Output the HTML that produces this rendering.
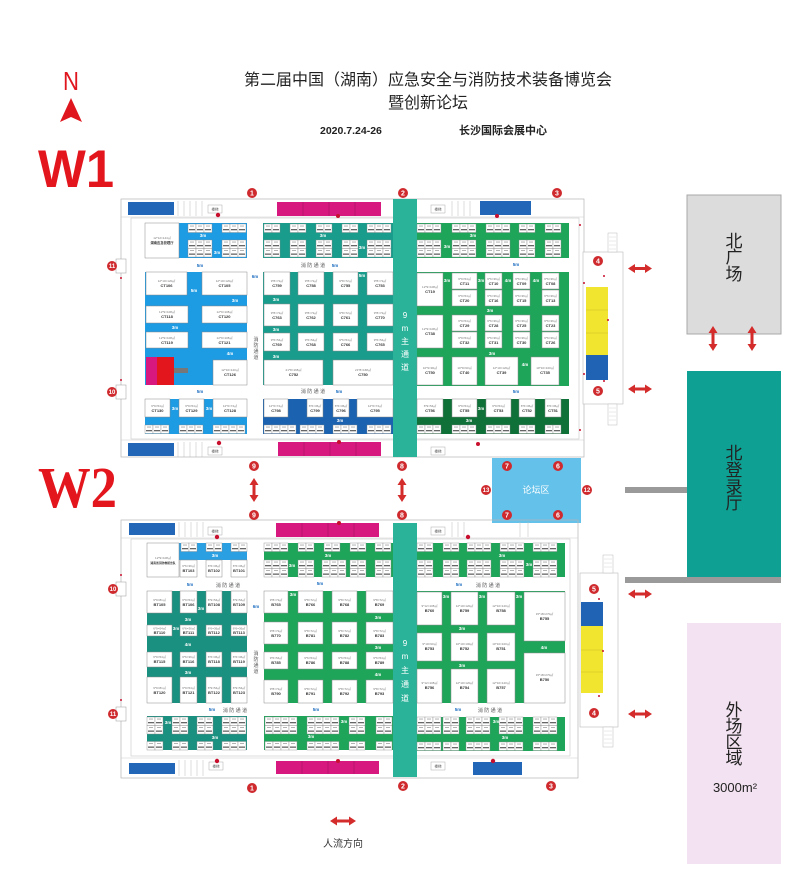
<!DOCTYPE html>
<html><head><meta charset="utf-8">
<style>
html,body{margin:0;padding:0;background:#fff;}
svg{display:block;}
.ff{font-family:"Liberation Sans","Noto Sans CJK SC",sans-serif;}
.w{fill:#fff;stroke:#8a8a8a;stroke-width:.5}
.d{font:3px "Liberation Sans","Noto Sans CJK SC",sans-serif;fill:#777;text-anchor:middle}
.i{font:bold 4px "Liberation Sans","Noto Sans CJK SC",sans-serif;fill:#333;text-anchor:middle}
.m{font:bold 4.5px "Liberation Sans",sans-serif;fill:#fff;text-anchor:middle}
.a{font:bold 4.5px "Liberation Sans",sans-serif;fill:#1f6fc0;text-anchor:middle}
.x{font:5px "Liberation Sans","Noto Sans CJK SC",sans-serif;fill:#555;text-anchor:middle}
.c circle{fill:#cf2a2e}
.c text{fill:#fff;font:bold 7px "Liberation Sans",sans-serif;text-anchor:middle}
.c2 text{font-size:6px}
.ar{fill:#d42b2b}
.vt{font:8px "Liberation Sans","Noto Sans CJK SC",sans-serif;fill:#fff;text-anchor:middle}
.big{font:17px "Liberation Sans","Noto Sans CJK SC",sans-serif;fill:#222;text-anchor:middle}
.ly{font:3.5px "Liberation Sans","Noto Sans CJK SC",sans-serif;fill:#555;text-anchor:middle}
</style></head>
<body>
<svg width="800" height="893" viewBox="0 0 800 893" xmlns="http://www.w3.org/2000/svg">
<defs>
<g id="b"><rect width="8" height="8.5" fill="#fff" stroke="#888" stroke-width=".4"/><rect x="2" y="1.6" width="4" height=".9" fill="#aaa"/><rect x="1" y="5" width="6" height="1.3" fill="#666"/></g>
<g id="b2"><use href="#b"/><use href="#b" x="8"/></g>
<g id="b3"><use href="#b2"/><use href="#b" x="16"/></g>
<g id="b4"><use href="#b2"/><use href="#b2" x="16"/></g>
</defs>
<rect width="800" height="893" fill="#fff"/>

<!-- Header -->
<text x="71" y="90" font-family="Liberation Sans, sans-serif" font-size="26" fill="#e0161e" text-anchor="middle" transform="translate(71 0) scale(.85 1) translate(-71 0)">N</text>
<polygon points="71,98 82,122 71,117 60,122" fill="#e0161e"/>
<text x="38" y="187" font-family="Liberation Sans, sans-serif" font-weight="bold" font-size="53" fill="#e3161e" textLength="76" lengthAdjust="spacingAndGlyphs">W1</text>
<text x="38" y="507" font-family="Liberation Serif, serif" font-weight="bold" font-size="58" fill="#e3161e" textLength="79" lengthAdjust="spacingAndGlyphs">W2</text>

<text x="428" y="85" class="ff" font-size="16" fill="#222" text-anchor="middle">第二届中国（湖南）应急安全与消防技术装备博览会</text>
<text x="428" y="108" class="ff" font-size="16" fill="#222" text-anchor="middle">暨创新论坛</text>
<text x="320" y="134" class="ff" font-size="10.5" font-weight="bold" fill="#222">2020.7.24-26</text>
<text x="459" y="134" class="ff" font-size="11" font-weight="bold" fill="#222">长沙国际会展中心</text>

<!-- Right side areas -->
<rect x="687" y="195" width="94" height="139" fill="#dcdcdc" stroke="#a8a8a8" stroke-width="1"/>
<text class="big" x="734" y="247">北</text><text class="big" x="734" y="263">广</text><text class="big" x="734" y="280">场</text>
<rect x="687" y="371" width="94" height="206" fill="#0fa094"/>
<text class="big" x="734" y="459">北</text><text class="big" x="734" y="476">登</text><text class="big" x="734" y="493">录</text><text class="big" x="734" y="509">厅</text>
<rect x="625" y="487" width="62" height="6" fill="#9a9a9a"/>
<rect x="625" y="577" width="156" height="6" fill="#9a9a9a"/>
<rect x="687" y="623" width="94" height="241" fill="#f3e2f1"/>
<text class="big" x="734" y="716">外</text><text class="big" x="734" y="732">场</text><text class="big" x="734" y="748">区</text><text class="big" x="734" y="764">域</text>
<text x="735" y="792" class="ff" font-size="13" fill="#222" text-anchor="middle">3000m²</text>

<!-- ================= W1 HALL ================= -->
<rect x="121" y="199" width="463" height="258" fill="none" stroke="#b5b5b5" stroke-width=".7"/>
<rect x="131" y="218" width="448" height="221" fill="none" stroke="#c8c8c8" stroke-width=".6"/>
<line x1="121" y1="217" x2="584" y2="217" stroke="#ccc" stroke-width=".5"/>
<line x1="121" y1="440" x2="584" y2="440" stroke="#ccc" stroke-width=".5"/>
<!-- top strip -->
<rect x="128" y="202" width="46" height="13" fill="#2266b8"/>
<g stroke="#bbb" stroke-width=".5" fill="none"><path d="M178 201v15M184 201v15M190 201v15M196 201v15M202 201v15"/></g>
<rect x="208" y="205" width="14" height="8" fill="#fff" stroke="#999" stroke-width=".4"/><text class="ly" x="215" y="210.5">楼梯</text>
<circle cx="218" cy="215" r="2.2" fill="#c8102e"/>
<rect x="277" y="202" width="104" height="14" fill="#d6187f"/>
<g stroke="#a01060" stroke-width=".5"><path d="M303 202v14M329 202v14M355 202v14"/></g>
<circle cx="338" cy="216" r="2" fill="#c8102e"/>
<rect x="431" y="205" width="14" height="8" fill="#fff" stroke="#999" stroke-width=".4"/><text class="ly" x="438" y="210.5">楼梯</text>
<g stroke="#bbb" stroke-width=".5" fill="none"><path d="M452 201v15M458 201v15M464 201v15M470 201v15"/></g>
<rect x="480" y="201" width="51" height="14" fill="#2266b8"/>
<circle cx="497" cy="216" r="2" fill="#c8102e"/>
<!-- bottom strip -->
<rect x="128" y="443" width="46" height="13" fill="#2266b8"/>
<g stroke="#bbb" stroke-width=".5" fill="none"><path d="M178 442v15M184 442v15M190 442v15M196 442v15M202 442v15"/></g>
<rect x="208" y="447" width="14" height="8" fill="#fff" stroke="#999" stroke-width=".4"/><text class="ly" x="215" y="452.5">楼梯</text>
<circle cx="219" cy="443" r="2.2" fill="#c8102e"/>
<rect x="278" y="442" width="103" height="14" fill="#d6187f"/>
<g stroke="#a01060" stroke-width=".5"><path d="M304 442v14M330 442v14M356 442v14"/></g>
<circle cx="339" cy="442" r="2" fill="#c8102e"/>
<rect x="431" y="447" width="14" height="8" fill="#fff" stroke="#999" stroke-width=".4"/><text class="ly" x="438" y="452.5">楼梯</text>
<circle cx="478" cy="444" r="2" fill="#c8102e"/>
<!-- left doors -->
<g fill="#fff" stroke="#999" stroke-width=".5"><rect x="116" y="259" width="10" height="14"/><rect x="116" y="385" width="10" height="14"/></g>
<g fill="#c8102e"><circle cx="121" cy="278" r="1"/><circle cx="121" cy="380" r="1"/><circle cx="580" cy="225" r="1"/><circle cx="580" cy="430" r="1"/></g>

<!-- W1 main aisle -->
<rect x="393" y="199" width="24" height="258" fill="#2bb39a"/>
<text class="vt" x="405" y="318">9</text><text class="vt" x="405" y="331">m</text><text class="vt" x="405" y="344">主</text><text class="vt" x="405" y="357">通</text><text class="vt" x="405" y="370">道</text>

<!-- W1 top-left -->
<rect x="179" y="223" width="68" height="35" fill="#1d9be3"/>
<rect class="w" x="145" y="223" width="34" height="35"/>
<text class="d" x="162" y="239">12*12=144㎡</text><text class="i" x="162" y="244" style="font-size:3.3px">湖南应急管理厅</text>
<use href="#b3" x="188" y="224"/><use href="#b3" x="222" y="224"/>
<use href="#b3" x="188" y="240"/><use href="#b3" x="188" y="248.5"/>
<use href="#b3" x="222" y="240"/><use href="#b3" x="222" y="248.5"/>
<text class="m" x="203" y="237">3m</text><text class="m" x="217" y="254">3m</text>

<!-- W1 top-middle teal -->
<rect x="263" y="223" width="130" height="35" fill="#1a9c8c"/>
<use href="#b2" x="264" y="224"/><use href="#b2" x="290" y="224"/><use href="#b2" x="316" y="224"/><use href="#b2" x="342" y="224"/><use href="#b3" x="367" y="224"/>
<use href="#b2" x="264" y="240"/><use href="#b2" x="290" y="240"/><use href="#b2" x="316" y="240"/><use href="#b2" x="342" y="240"/><use href="#b3" x="367" y="240"/>
<use href="#b2" x="264" y="248.5"/><use href="#b2" x="290" y="248.5"/><use href="#b2" x="316" y="248.5"/><use href="#b2" x="342" y="248.5"/><use href="#b3" x="367" y="248.5"/>
<text class="m" x="323" y="237">3m</text><text class="m" x="362" y="249">3m</text>

<!-- W1 top-right green -->
<rect x="417" y="223" width="152" height="35" fill="#1fa55a"/>
<use href="#b3" x="417" y="224"/><use href="#b3" x="452" y="224"/><use href="#b3" x="486" y="224"/><use href="#b2" x="519" y="224"/><use href="#b2" x="545" y="224"/>
<use href="#b3" x="417" y="240"/><use href="#b3" x="452" y="240"/><use href="#b3" x="486" y="240"/><use href="#b2" x="519" y="240"/><use href="#b2" x="545" y="240"/>
<use href="#b3" x="417" y="248.5"/><use href="#b3" x="452" y="248.5"/><use href="#b3" x="486" y="248.5"/><use href="#b2" x="519" y="248.5"/><use href="#b2" x="545" y="248.5"/>
<text class="m" x="473" y="237">3m</text><text class="m" x="447" y="248">3m</text>

<!-- W1 aisle labels row 1 -->
<text class="a" x="200" y="267">5m</text>
<text class="x" x="313" y="267">消 防 通 道</text>
<text class="a" x="335" y="267">5m</text>
<text class="a" x="516" y="266">5m</text>
<text class="a" x="255" y="278">6m</text>

<!-- W1 middle-left blue -->
<rect x="145" y="272" width="102" height="113" fill="#1d9be3"/>
<rect class="w" x="146" y="272" width="41" height="23"/><text class="d" x="166.5" y="282">12*10=120㎡</text><text class="i" x="166.5" y="287">CT106</text>
<rect class="w" x="202" y="272" width="45" height="23"/><text class="d" x="224.5" y="282">12*10=120㎡</text><text class="i" x="224.5" y="287">CT105</text>
<rect class="w" x="146" y="306" width="42" height="17"/><text class="d" x="167" y="313">12*9=108㎡</text><text class="i" x="167" y="318">CT118</text>
<rect class="w" x="202" y="306" width="45" height="17"/><text class="d" x="224.5" y="313">12*9=108㎡</text><text class="i" x="224.5" y="318">CT120</text>
<rect class="w" x="146" y="332" width="42" height="16"/><text class="d" x="167" y="339">12*9=108㎡</text><text class="i" x="167" y="344">CT119</text>
<rect class="w" x="202" y="332" width="45" height="16"/><text class="d" x="224.5" y="339">12*9=108㎡</text><text class="i" x="224.5" y="344">CT121</text>
<rect x="146" y="357" width="11" height="28" fill="#d6187f"/>
<rect x="157" y="357" width="17" height="28" fill="#e3161e"/>
<rect x="174" y="368" width="14" height="5" fill="#777"/>
<rect class="w" x="213" y="360" width="34" height="25"/><text class="d" x="230" y="371">12*10=120㎡</text><text class="i" x="230" y="376">CT126</text>
<text class="m" x="194" y="292">5m</text><text class="m" x="235" y="302">3m</text><text class="m" x="175" y="329">3m</text><text class="m" x="230" y="355">4m</text>
<!-- vertical aisle text -->
<text class="x" x="256" y="341">消</text><text class="x" x="256" y="347">防</text><text class="x" x="256" y="353">通</text><text class="x" x="256" y="359">道</text>

<!-- W1 middle teal -->
<rect x="263" y="272" width="130" height="113" fill="#1a9c8c"/>
<rect class="w" x="264" y="272" width="26" height="23"/><text class="d" x="277" y="282">9*8=72㎡</text><text class="i" x="277" y="287">C759</text>
<rect class="w" x="298" y="272" width="26" height="23"/><text class="d" x="311" y="282">9*8=72㎡</text><text class="i" x="311" y="287">C758</text>
<rect class="w" x="333" y="272" width="25" height="23"/><text class="d" x="345.5" y="282">9*8=72㎡</text><text class="i" x="345.5" y="287">C755</text>
<rect class="w" x="367" y="272" width="26" height="23"/><text class="d" x="380" y="282">9*8=72㎡</text><text class="i" x="380" y="287">C753</text>
<rect class="w" x="264" y="304" width="26" height="22"/><text class="d" x="277" y="314">9*8=72㎡</text><text class="i" x="277" y="319">C763</text>
<rect class="w" x="298" y="304" width="26" height="22"/><text class="d" x="311" y="314">9*8=72㎡</text><text class="i" x="311" y="319">C762</text>
<rect class="w" x="333" y="304" width="25" height="22"/><text class="d" x="345.5" y="314">9*8=72㎡</text><text class="i" x="345.5" y="319">C761</text>
<rect class="w" x="367" y="304" width="26" height="22"/><text class="d" x="380" y="314">9*8=72㎡</text><text class="i" x="380" y="319">C770</text>
<rect class="w" x="264" y="333" width="26" height="18"/><text class="d" x="277" y="341">9*6=54㎡</text><text class="i" x="277" y="346">C769</text>
<rect class="w" x="298" y="333" width="26" height="18"/><text class="d" x="311" y="341">9*6=54㎡</text><text class="i" x="311" y="346">C768</text>
<rect class="w" x="333" y="333" width="25" height="18"/><text class="d" x="345.5" y="341">9*6=54㎡</text><text class="i" x="345.5" y="346">C766</text>
<rect class="w" x="367" y="333" width="26" height="18"/><text class="d" x="380" y="341">9*6=54㎡</text><text class="i" x="380" y="346">C765</text>
<rect class="w" x="264" y="360" width="59" height="25"/><text class="d" x="293.5" y="371">21*8=168㎡</text><text class="i" x="293.5" y="376">C752</text>
<rect class="w" x="333" y="360" width="60" height="25"/><text class="d" x="363" y="371">21*8=168㎡</text><text class="i" x="363" y="376">C750</text>
<text class="m" x="276" y="301">3m</text><text class="m" x="276" y="331">3m</text><text class="m" x="276" y="358">3m</text><text class="m" x="362" y="277">5m</text>

<!-- W1 middle-right green -->
<rect x="417" y="272" width="152" height="114" fill="#1fa55a"/>
<rect class="w" x="417" y="273" width="26" height="33"/><text class="d" x="430" y="288">12*9=108㎡</text><text class="i" x="430" y="293">CT19</text>
<rect class="w" x="452" y="273" width="25" height="16"/><text class="d" x="464.5" y="280">6*9=54㎡</text><text class="i" x="464.5" y="285">CT11</text>
<rect class="w" x="452" y="290" width="25" height="16"/><text class="d" x="464.5" y="297">6*9=54㎡</text><text class="i" x="464.5" y="302">CT20</text>
<rect class="w" x="485" y="273" width="17" height="16"/><text class="d" x="493.5" y="280">6*6=36㎡</text><text class="i" x="493.5" y="285">CT10</text>
<rect class="w" x="485" y="290" width="17" height="16"/><text class="d" x="493.5" y="297">6*6=36㎡</text><text class="i" x="493.5" y="302">CT16</text>
<rect class="w" x="513" y="273" width="17" height="16"/><text class="d" x="521.5" y="280">6*6=36㎡</text><text class="i" x="521.5" y="285">CT09</text>
<rect class="w" x="513" y="290" width="17" height="16"/><text class="d" x="521.5" y="297">6*6=36㎡</text><text class="i" x="521.5" y="302">CT15</text>
<rect class="w" x="542" y="273" width="17" height="16"/><text class="d" x="550.5" y="280">6*6=36㎡</text><text class="i" x="550.5" y="285">CT08</text>
<rect class="w" x="542" y="290" width="17" height="16"/><text class="d" x="550.5" y="297">6*6=36㎡</text><text class="i" x="550.5" y="302">CT13</text>
<rect class="w" x="417" y="315" width="26" height="33"/><text class="d" x="430" y="330">12*9=108㎡</text><text class="i" x="430" y="335">CT38</text>
<rect class="w" x="452" y="315" width="25" height="16"/><text class="d" x="464.5" y="322">6*9=54㎡</text><text class="i" x="464.5" y="327">CT29</text>
<rect class="w" x="452" y="332" width="25" height="16"/><text class="d" x="464.5" y="339">6*9=54㎡</text><text class="i" x="464.5" y="344">CT32</text>
<rect class="w" x="485" y="315" width="17" height="16"/><text class="d" x="493.5" y="322">6*6=36㎡</text><text class="i" x="493.5" y="327">CT28</text>
<rect class="w" x="485" y="332" width="17" height="16"/><text class="d" x="493.5" y="339">6*6=36㎡</text><text class="i" x="493.5" y="344">CT31</text>
<rect class="w" x="513" y="315" width="17" height="16"/><text class="d" x="521.5" y="322">6*6=36㎡</text><text class="i" x="521.5" y="327">CT25</text>
<rect class="w" x="513" y="332" width="17" height="16"/><text class="d" x="521.5" y="339">6*6=36㎡</text><text class="i" x="521.5" y="344">CT30</text>
<rect class="w" x="542" y="315" width="17" height="16"/><text class="d" x="550.5" y="322">6*6=36㎡</text><text class="i" x="550.5" y="327">CT23</text>
<rect class="w" x="542" y="332" width="17" height="16"/><text class="d" x="550.5" y="339">6*6=36㎡</text><text class="i" x="550.5" y="344">CT26</text>
<rect class="w" x="417" y="357" width="26" height="28"/><text class="d" x="430" y="369">10*9=90㎡</text><text class="i" x="430" y="374">CT50</text>
<rect class="w" x="452" y="357" width="25" height="28"/><text class="d" x="464.5" y="369">10*9=90㎡</text><text class="i" x="464.5" y="374">CT40</text>
<rect class="w" x="485" y="357" width="33" height="28"/><text class="d" x="501.5" y="369">12*10=120㎡</text><text class="i" x="501.5" y="374">CT39</text>
<rect class="w" x="531" y="357" width="28" height="28"/><text class="d" x="545" y="369">10*10=100㎡</text><text class="i" x="545" y="374">CT35</text>
<text class="m" x="447" y="282">3m</text><text class="m" x="481" y="282">3m</text><text class="m" x="508" y="282">4m</text><text class="m" x="536" y="282">4m</text>
<text class="m" x="490" y="312">3m</text><text class="m" x="492" y="355">3m</text><text class="m" x="525" y="366">4m</text>

<!-- W1 aisle labels row 2 -->
<text class="a" x="200" y="393">5m</text>
<text class="x" x="313" y="393">消 防 通 道</text>
<text class="a" x="339" y="393">5m</text>
<text class="a" x="516" y="393">5m</text>

<!-- W1 bottom-left blue -->
<rect x="145" y="399" width="102" height="35" fill="#1d9be3"/>
<rect class="w" x="145" y="399" width="25" height="18"/><text class="d" x="157.5" y="407">6*9=54㎡</text><text class="i" x="157.5" y="412">CT130</text>
<rect class="w" x="179" y="399" width="25" height="18"/><text class="d" x="191.5" y="407">6*9=54㎡</text><text class="i" x="191.5" y="412">CT129</text>
<rect class="w" x="213" y="399" width="34" height="18"/><text class="d" x="230" y="407">12*6=72㎡</text><text class="i" x="230" y="412">CT128</text>
<use href="#b3" x="145" y="425"/><use href="#b3" x="179" y="425"/><use href="#b4" x="213" y="425"/>
<text class="m" x="175" y="410">3m</text><text class="m" x="209" y="410">3m</text>

<!-- W1 bottom-middle dark blue -->
<rect x="263" y="399" width="130" height="35" fill="#1b63b0"/>
<rect class="w" x="264" y="399" width="24" height="18"/><text class="d" x="276" y="407">12*6=72㎡</text><text class="i" x="276" y="412">C798</text>
<rect class="w" x="307" y="399" width="16" height="18"/><text class="d" x="315" y="407">6*6=36㎡</text><text class="i" x="315" y="412">C799</text>
<rect class="w" x="333" y="399" width="16" height="18"/><text class="d" x="341" y="407">6*6=36㎡</text><text class="i" x="341" y="412">C796</text>
<rect class="w" x="357" y="399" width="36" height="18"/><text class="d" x="375" y="407">12*6=72㎡</text><text class="i" x="375" y="412">C795</text>
<use href="#b4" x="264" y="425"/><use href="#b3" x="300" y="425"/><use href="#b3" x="333" y="425"/><use href="#b3" x="367" y="425"/>
<text class="m" x="340" y="422">3m</text>

<!-- W1 bottom-right dark green -->
<rect x="417" y="399" width="152" height="35" fill="#0f7038"/>
<rect class="w" x="417" y="399" width="26" height="18"/><text class="d" x="430" y="407">6*9=54㎡</text><text class="i" x="430" y="412">CT56</text>
<rect class="w" x="452" y="399" width="25" height="18"/><text class="d" x="464.5" y="407">6*9=54㎡</text><text class="i" x="464.5" y="412">CT55</text>
<rect class="w" x="486" y="399" width="25" height="18"/><text class="d" x="498.5" y="407">6*9=54㎡</text><text class="i" x="498.5" y="412">CT53</text>
<rect class="w" x="519" y="399" width="16" height="18"/><text class="d" x="527" y="407">6*6=36㎡</text><text class="i" x="527" y="412">CT52</text>
<rect class="w" x="545" y="399" width="16" height="18"/><text class="d" x="553" y="407">6*6=36㎡</text><text class="i" x="553" y="412">CT51</text>
<use href="#b3" x="417" y="425"/><use href="#b3" x="452" y="425"/><use href="#b3" x="486" y="425"/><use href="#b2" x="519" y="425"/><use href="#b2" x="545" y="425"/>
<text class="m" x="481" y="410">3m</text><text class="m" x="469" y="422">3m</text>

<!-- W1 annex -->
<rect x="583" y="252" width="40" height="152" fill="#fff" stroke="#bbb" stroke-width=".6"/>
<rect x="608" y="233" width="9" height="19" fill="#fff" stroke="#bbb" stroke-width=".5"/>
<rect x="608" y="404" width="9" height="21" fill="#fff" stroke="#bbb" stroke-width=".5"/>
<g stroke="#ccc" stroke-width=".4"><path d="M609 237h7M609 241h7M609 245h7M609 249h7M609 408h7M609 412h7M609 416h7M609 420h7"/></g>
<rect x="586" y="287" width="22" height="68" fill="#f2e530"/>
<g stroke="#c8bd20" stroke-width=".5"><path d="M586 310h22M586 333h22"/></g>
<rect x="586" y="355" width="22" height="25" fill="#2063b5"/>
<g fill="#c8102e"><circle cx="584" cy="283" r="1"/><circle cx="604" cy="276" r="1"/><circle cx="608" cy="320" r="1"/><circle cx="584" cy="374" r="1"/><circle cx="604" cy="381" r="1"/></g>

<!-- ================= MIDDLE ================= -->
<rect x="492" y="458" width="89" height="65" fill="#63c1ea"/>
<text x="536" y="493" class="ff" font-size="9" fill="#fff" text-anchor="middle">论坛区</text>

<!-- ================= W2 HALL ================= -->
<rect x="121" y="520" width="457" height="258" fill="none" stroke="#b5b5b5" stroke-width=".7"/>
<rect x="131" y="539" width="439" height="217" fill="none" stroke="#c8c8c8" stroke-width=".6"/>
<line x1="121" y1="538" x2="578" y2="538" stroke="#ccc" stroke-width=".5"/>
<line x1="121" y1="758" x2="578" y2="758" stroke="#ccc" stroke-width=".5"/>
<!-- top strip -->
<rect x="129" y="523" width="46" height="12" fill="#2266b8"/>
<g stroke="#bbb" stroke-width=".5" fill="none"><path d="M179 522v15M185 522v15M191 522v15M197 522v15M203 522v15"/></g>
<rect x="208" y="527" width="14" height="8" fill="#fff" stroke="#999" stroke-width=".4"/><text class="ly" x="215" y="532.5">楼梯</text>
<circle cx="217" cy="537" r="2.2" fill="#c8102e"/>
<rect x="276" y="523" width="103" height="14" fill="#d6187f"/>
<g stroke="#a01060" stroke-width=".5"><path d="M302 523v14M328 523v14M354 523v14"/></g>
<circle cx="339" cy="523" r="2" fill="#c8102e"/>
<rect x="431" y="527" width="14" height="8" fill="#fff" stroke="#999" stroke-width=".4"/><text class="ly" x="438" y="532.5">楼梯</text>
<circle cx="468" cy="537" r="2.2" fill="#c8102e"/>
<g stroke="#bbb" stroke-width=".5" fill="none"><path d="M452 522v15M458 522v15M464 522v15M520 522v15M528 522v15"/></g>
<!-- bottom strip -->
<rect x="129" y="763" width="46" height="11" fill="#2266b8"/>
<g stroke="#bbb" stroke-width=".5" fill="none"><path d="M179 760v16M185 760v16M191 760v16M197 760v16M203 760v16"/></g>
<rect x="209" y="762" width="14" height="8" fill="#fff" stroke="#999" stroke-width=".4"/><text class="ly" x="216" y="767.5">楼梯</text>
<circle cx="217" cy="761" r="2.2" fill="#c8102e"/>
<rect x="276" y="761" width="103" height="13" fill="#d6187f"/>
<g stroke="#a01060" stroke-width=".5"><path d="M302 761v13M328 761v13M354 761v13"/></g>
<circle cx="338" cy="761" r="2" fill="#c8102e"/>
<rect x="431" y="762" width="14" height="8" fill="#fff" stroke="#999" stroke-width=".4"/><text class="ly" x="438" y="767.5">楼梯</text>
<rect x="473" y="762" width="49" height="13" fill="#2266b8"/>
<circle cx="493" cy="761" r="2.2" fill="#c8102e"/>
<!-- left doors -->
<g fill="#fff" stroke="#999" stroke-width=".5"><rect x="116" y="582" width="10" height="14"/><rect x="116" y="707" width="10" height="14"/></g>
<g fill="#c8102e"><circle cx="121" cy="575" r="1"/><circle cx="121" cy="700" r="1"/></g>

<!-- W2 main aisle -->
<rect x="393" y="523" width="24" height="254" fill="#2bb39a"/>
<text class="vt" x="405" y="646">9</text><text class="vt" x="405" y="659">m</text><text class="vt" x="405" y="673">主</text><text class="vt" x="405" y="687">通</text><text class="vt" x="405" y="701">道</text>

<!-- W2 top-left -->
<rect x="179" y="543" width="68" height="17" fill="#2a9fe2"/>
<rect class="w" x="147" y="543" width="32" height="34"/>
<text class="d" x="163" y="559">12*9=108㎡</text><text class="i" x="163" y="564" style="font-size:2.8px">湖南省消防救援总队</text>
<use href="#b2" x="181" y="543"/><use href="#b2" x="206" y="543"/><use href="#b2" x="231" y="543"/>
<rect class="w" x="180" y="560" width="17" height="17"/><text class="d" x="188.5" y="567">6*6=36㎡</text><text class="i" x="188.5" y="572">BT103</text>
<rect class="w" x="206" y="560" width="16" height="17"/><text class="d" x="214" y="567">6*6=36㎡</text><text class="i" x="214" y="572">BT102</text>
<rect class="w" x="231" y="560" width="16" height="17"/><text class="d" x="239" y="567">6*6=36㎡</text><text class="i" x="239" y="572">BT101</text>
<text class="m" x="215" y="557">3m</text>

<!-- W2 top-middle green -->
<rect x="264" y="543" width="129" height="34" fill="#1fa55a"/>
<use href="#b3" x="264" y="543"/><use href="#b2" x="298" y="543"/><use href="#b2" x="324" y="543"/><use href="#b2" x="350" y="543"/><use href="#b2" x="375" y="543"/>
<use href="#b3" x="264" y="560"/><use href="#b2" x="298" y="560"/><use href="#b3" x="322" y="560"/><use href="#b2" x="350" y="560"/><use href="#b2" x="375" y="560"/>
<use href="#b3" x="264" y="568.5"/><use href="#b2" x="298" y="568.5"/><use href="#b3" x="322" y="568.5"/><use href="#b2" x="350" y="568.5"/><use href="#b2" x="375" y="568.5"/>
<text class="m" x="328" y="557">3m</text><text class="m" x="292" y="567">3m</text>

<!-- W2 top-right green -->
<rect x="417" y="543" width="148" height="34" fill="#1fa55a"/>
<use href="#b2" x="417" y="543"/><use href="#b2" x="443" y="543"/><use href="#b3" x="467" y="543"/><use href="#b3" x="500" y="543"/><use href="#b3" x="533" y="543"/>
<use href="#b2" x="417" y="560"/><use href="#b2" x="443" y="560"/><use href="#b3" x="467" y="560"/><use href="#b3" x="500" y="560"/><use href="#b3" x="533" y="560"/>
<use href="#b2" x="417" y="568.5"/><use href="#b2" x="443" y="568.5"/><use href="#b3" x="467" y="568.5"/><use href="#b3" x="500" y="568.5"/><use href="#b3" x="533" y="568.5"/>
<text class="m" x="502" y="557">3m</text><text class="m" x="529" y="566">3m</text>

<!-- W2 aisle labels row 1 -->
<text class="a" x="190" y="586">5m</text>
<text class="x" x="228" y="587">消 防 通 道</text>
<text class="a" x="320" y="585">5m</text>
<text class="a" x="459" y="586">5m</text>
<text class="x" x="488" y="587">消 防 通 道</text>
<text class="a" x="256" y="608">6m</text>

<!-- W2 middle-left teal -->
<rect x="147" y="591" width="100" height="112" fill="#1a9080"/>
<rect class="w" x="147" y="591" width="25" height="22"/><text class="d" x="159.5" y="601">9*9=81㎡</text><text class="i" x="159.5" y="606">BT105</text>
<rect class="w" x="180" y="591" width="17" height="22"/><text class="d" x="188.5" y="601">6*9=54㎡</text><text class="i" x="188.5" y="606">BT106</text>
<rect class="w" x="206" y="591" width="16" height="22"/><text class="d" x="214" y="601">6*9=54㎡</text><text class="i" x="214" y="606">BT108</text>
<rect class="w" x="231" y="591" width="16" height="22"/><text class="d" x="239" y="601">6*9=54㎡</text><text class="i" x="239" y="606">BT109</text>
<rect class="w" x="147" y="625" width="25" height="11"/><text class="d" x="159.5" y="629.5">6*9=54㎡</text><text class="i" x="159.5" y="634">BT110</text>
<rect class="w" x="180" y="625" width="17" height="11"/><text class="d" x="188.5" y="629.5">6*6=36㎡</text><text class="i" x="188.5" y="634">BT111</text>
<rect class="w" x="206" y="625" width="16" height="11"/><text class="d" x="214" y="629.5">6*6=36㎡</text><text class="i" x="214" y="634">BT112</text>
<rect class="w" x="231" y="625" width="16" height="11"/><text class="d" x="239" y="629.5">6*6=36㎡</text><text class="i" x="239" y="634">BT113</text>
<rect class="w" x="147" y="652" width="25" height="15"/><text class="d" x="159.5" y="658">6*9=54㎡</text><text class="i" x="159.5" y="663">BT115</text>
<rect class="w" x="180" y="652" width="17" height="15"/><text class="d" x="188.5" y="658">6*6=36㎡</text><text class="i" x="188.5" y="663">BT116</text>
<rect class="w" x="206" y="652" width="16" height="15"/><text class="d" x="214" y="658">6*6=36㎡</text><text class="i" x="214" y="663">BT118</text>
<rect class="w" x="231" y="652" width="16" height="15"/><text class="d" x="239" y="658">6*6=36㎡</text><text class="i" x="239" y="663">BT119</text>
<rect class="w" x="147" y="677" width="25" height="26"/><text class="d" x="159.5" y="689">9*9=81㎡</text><text class="i" x="159.5" y="694">BT120</text>
<rect class="w" x="180" y="677" width="17" height="26"/><text class="d" x="188.5" y="689">6*9=54㎡</text><text class="i" x="188.5" y="694">BT121</text>
<rect class="w" x="206" y="677" width="16" height="26"/><text class="d" x="214" y="689">6*9=54㎡</text><text class="i" x="214" y="694">BT122</text>
<rect class="w" x="231" y="677" width="16" height="26"/><text class="d" x="239" y="689">6*9=54㎡</text><text class="i" x="239" y="694">BT123</text>
<text class="m" x="201" y="610">3m</text><text class="m" x="188" y="621">3m</text><text class="m" x="176" y="630">3m</text><text class="m" x="188" y="646">4m</text><text class="m" x="188" y="674">3m</text>
<text class="x" x="256" y="655">消</text><text class="x" x="256" y="661">防</text><text class="x" x="256" y="667">通</text><text class="x" x="256" y="673">道</text>

<!-- W2 middle-middle green -->
<rect x="264" y="591" width="129" height="112" fill="#1fa55a"/>
<rect class="w" x="264" y="591" width="24" height="22"/><text class="d" x="276" y="601">9*8=72㎡</text><text class="i" x="276" y="606">B765</text>
<rect class="w" x="298" y="591" width="25" height="22"/><text class="d" x="310.5" y="601">9*8=72㎡</text><text class="i" x="310.5" y="606">B766</text>
<rect class="w" x="332" y="591" width="25" height="22"/><text class="d" x="344.5" y="601">9*8=72㎡</text><text class="i" x="344.5" y="606">B768</text>
<rect class="w" x="366" y="591" width="27" height="22"/><text class="d" x="379.5" y="601">9*8=72㎡</text><text class="i" x="379.5" y="606">B769</text>
<rect class="w" x="264" y="622" width="24" height="22"/><text class="d" x="276" y="632">9*8=72㎡</text><text class="i" x="276" y="637">B770</text>
<rect class="w" x="298" y="622" width="25" height="22"/><text class="d" x="310.5" y="632">9*8=72㎡</text><text class="i" x="310.5" y="637">B781</text>
<rect class="w" x="332" y="622" width="25" height="22"/><text class="d" x="344.5" y="632">9*8=72㎡</text><text class="i" x="344.5" y="637">B782</text>
<rect class="w" x="366" y="622" width="27" height="22"/><text class="d" x="379.5" y="632">9*8=72㎡</text><text class="i" x="379.5" y="637">B783</text>
<rect class="w" x="264" y="652" width="24" height="17"/><text class="d" x="276" y="659">9*6=54㎡</text><text class="i" x="276" y="664">B785</text>
<rect class="w" x="298" y="652" width="25" height="17"/><text class="d" x="310.5" y="659">9*6=54㎡</text><text class="i" x="310.5" y="664">B786</text>
<rect class="w" x="332" y="652" width="25" height="17"/><text class="d" x="344.5" y="659">9*6=54㎡</text><text class="i" x="344.5" y="664">B788</text>
<rect class="w" x="366" y="652" width="27" height="17"/><text class="d" x="379.5" y="659">9*6=54㎡</text><text class="i" x="379.5" y="664">B789</text>
<rect class="w" x="264" y="680" width="24" height="23"/><text class="d" x="276" y="690">9*8=72㎡</text><text class="i" x="276" y="695">B790</text>
<rect class="w" x="298" y="680" width="25" height="23"/><text class="d" x="310.5" y="690">9*8=72㎡</text><text class="i" x="310.5" y="695">B791</text>
<rect class="w" x="332" y="680" width="25" height="23"/><text class="d" x="344.5" y="690">9*8=72㎡</text><text class="i" x="344.5" y="695">B792</text>
<rect class="w" x="366" y="680" width="27" height="23"/><text class="d" x="379.5" y="690">9*8=72㎡</text><text class="i" x="379.5" y="695">B793</text>
<text class="m" x="293" y="596">3m</text><text class="m" x="378" y="619">3m</text><text class="m" x="378" y="649">3m</text><text class="m" x="378" y="676">4m</text>

<!-- W2 middle-right green -->
<rect x="417" y="591" width="148" height="112" fill="#1fa55a"/>
<rect class="w" x="417" y="592" width="25" height="33"/><text class="d" x="429.5" y="607">9*12=108㎡</text><text class="i" x="429.5" y="612">B760</text>
<rect class="w" x="451" y="592" width="27" height="33"/><text class="d" x="464.5" y="607">12*10=120㎡</text><text class="i" x="464.5" y="612">B759</text>
<rect class="w" x="487" y="592" width="28" height="33"/><text class="d" x="501" y="607">12*10=120㎡</text><text class="i" x="501" y="612">B758</text>
<rect class="w" x="524" y="592" width="41" height="49"/><text class="d" x="544.5" y="615">15*18=270㎡</text><text class="i" x="544.5" y="620">B755</text>
<rect class="w" x="417" y="633" width="25" height="28"/><text class="d" x="429.5" y="645">9*10=90㎡</text><text class="i" x="429.5" y="650">B753</text>
<rect class="w" x="451" y="633" width="27" height="28"/><text class="d" x="464.5" y="645">10*10=100㎡</text><text class="i" x="464.5" y="650">B752</text>
<rect class="w" x="487" y="633" width="28" height="28"/><text class="d" x="501" y="645">10*10=100㎡</text><text class="i" x="501" y="650">B751</text>
<rect class="w" x="524" y="653" width="41" height="50"/><text class="d" x="544.5" y="676">15*18=270㎡</text><text class="i" x="544.5" y="681">B750</text>
<rect class="w" x="417" y="669" width="25" height="34"/><text class="d" x="429.5" y="684">9*12=108㎡</text><text class="i" x="429.5" y="689">B756</text>
<rect class="w" x="451" y="669" width="27" height="34"/><text class="d" x="464.5" y="684">12*10=120㎡</text><text class="i" x="464.5" y="689">B754</text>
<rect class="w" x="487" y="669" width="28" height="34"/><text class="d" x="501" y="684">12*10=120㎡</text><text class="i" x="501" y="689">B757</text>
<text class="m" x="446" y="598">3m</text><text class="m" x="482" y="598">3m</text><text class="m" x="519" y="598">3m</text><text class="m" x="462" y="630">3m</text><text class="m" x="462" y="667">3m</text><text class="m" x="544" y="649">4m</text>

<!-- W2 aisle labels row 2 -->
<text class="a" x="212" y="711">5m</text>
<text class="x" x="235" y="712">消 防 通 道</text>
<text class="a" x="316" y="711">5m</text>
<text class="a" x="458" y="711">5m</text>
<text class="x" x="490" y="712">消 防 通 道</text>

<!-- W2 bottom-left teal -->
<rect x="147" y="716" width="100" height="34" fill="#1a9080"/>
<use href="#b2" x="147" y="717"/><use href="#b2" x="172" y="717"/><use href="#b2" x="197" y="717"/><use href="#b3" x="222" y="717"/>
<use href="#b2" x="147" y="725.5"/><use href="#b2" x="172" y="725.5"/><use href="#b2" x="197" y="725.5"/><use href="#b3" x="222" y="725.5"/>
<use href="#b2" x="147" y="741.5"/><use href="#b2" x="172" y="741.5"/><use href="#b2" x="197" y="741.5"/><use href="#b3" x="222" y="741.5"/>
<text class="m" x="168" y="724">3m</text><text class="m" x="215" y="739">3m</text>

<!-- W2 bottom-middle green -->
<rect x="264" y="716" width="129" height="34" fill="#1fa55a"/>
<use href="#b4" x="265" y="717"/><use href="#b4" x="307" y="717"/><use href="#b2" x="349" y="717"/><use href="#b2" x="376" y="717"/>
<use href="#b4" x="265" y="725.5"/><use href="#b4" x="307" y="725.5"/><use href="#b2" x="349" y="725.5"/><use href="#b2" x="376" y="725.5"/>
<use href="#b4" x="265" y="741.5"/><use href="#b4" x="307" y="741.5"/><use href="#b2" x="349" y="741.5"/><use href="#b2" x="376" y="741.5"/>
<text class="m" x="311" y="738">3m</text><text class="m" x="344" y="723">3m</text>

<!-- W2 bottom-right green -->
<rect x="417" y="717" width="148" height="34" fill="#1fa55a"/>
<use href="#b3" x="417" y="717"/><use href="#b2" x="443" y="717"/><use href="#b3" x="466" y="717"/><use href="#b3" x="499" y="717"/><use href="#b3" x="533" y="717"/>
<use href="#b3" x="417" y="725.5"/><use href="#b2" x="443" y="725.5"/><use href="#b3" x="466" y="725.5"/><use href="#b3" x="499" y="725.5"/><use href="#b3" x="533" y="725.5"/>
<use href="#b3" x="417" y="742"/><use href="#b2" x="443" y="742"/><use href="#b3" x="466" y="742"/><use href="#b3" x="499" y="742"/><use href="#b3" x="533" y="742"/>
<text class="m" x="496" y="723">3m</text><text class="m" x="505" y="739">3m</text>

<!-- W2 annex -->
<rect x="580" y="573" width="38" height="154" fill="#fff" stroke="#bbb" stroke-width=".6"/>
<rect x="603" y="555" width="10" height="18" fill="#fff" stroke="#bbb" stroke-width=".5"/>
<rect x="603" y="727" width="10" height="20" fill="#fff" stroke="#bbb" stroke-width=".5"/>
<g stroke="#ccc" stroke-width=".4"><path d="M604 559h8M604 563h8M604 567h8M604 731h8M604 735h8M604 739h8M604 743h8"/></g>
<rect x="581" y="602" width="22" height="24" fill="#2063b5"/>
<rect x="581" y="626" width="22" height="67" fill="#f2e530"/>
<g stroke="#c8bd20" stroke-width=".5"><path d="M581 650h22M581 672h22"/></g>
<g fill="#c8102e"><circle cx="599" cy="599" r="1"/><circle cx="603" cy="651" r="1"/><circle cx="599" cy="696" r="1"/></g>

<!-- ================= CIRCLES ================= -->
<g class="c"><circle cx="252" cy="193" r="5"/><text x="252" y="195.5">1</text></g>
<g class="c"><circle cx="403" cy="193" r="5"/><text x="403" y="195.5">2</text></g>
<g class="c"><circle cx="557" cy="193" r="5"/><text x="557" y="195.5">3</text></g>
<g class="c"><circle cx="598" cy="261" r="5"/><text x="598" y="263.5">4</text></g>
<g class="c"><circle cx="598" cy="391" r="5"/><text x="598" y="393.5">5</text></g>
<g class="c c2"><circle cx="112" cy="266" r="5"/><text x="112" y="268">11</text></g>
<g class="c c2"><circle cx="112" cy="392" r="5"/><text x="112" y="394">10</text></g>
<g class="c"><circle cx="254" cy="466" r="5"/><text x="254" y="468.5">9</text></g>
<g class="c"><circle cx="254" cy="515" r="5"/><text x="254" y="517.5">9</text></g>
<g class="c"><circle cx="402" cy="466" r="5"/><text x="402" y="468.5">8</text></g>
<g class="c"><circle cx="402" cy="515" r="5"/><text x="402" y="517.5">8</text></g>
<g class="c"><circle cx="507" cy="466" r="5"/><text x="507" y="468.5">7</text></g>
<g class="c"><circle cx="507" cy="515" r="5"/><text x="507" y="517.5">7</text></g>
<g class="c"><circle cx="558" cy="466" r="5"/><text x="558" y="468.5">6</text></g>
<g class="c"><circle cx="558" cy="515" r="5"/><text x="558" y="517.5">6</text></g>
<g class="c c2"><circle cx="486" cy="490" r="5"/><text x="486" y="492">13</text></g>
<g class="c c2"><circle cx="587" cy="490" r="5"/><text x="587" y="492">12</text></g>
<g class="c c2"><circle cx="113" cy="589" r="5"/><text x="113" y="591">10</text></g>
<g class="c c2"><circle cx="113" cy="714" r="5"/><text x="113" y="716">11</text></g>
<g class="c"><circle cx="594" cy="589" r="5"/><text x="594" y="591.5">5</text></g>
<g class="c"><circle cx="594" cy="713" r="5"/><text x="594" y="715.5">4</text></g>
<g class="c"><circle cx="252" cy="788" r="5"/><text x="252" y="790.5">1</text></g>
<g class="c"><circle cx="403" cy="786" r="5"/><text x="403" y="788.5">2</text></g>
<g class="c"><circle cx="551" cy="786" r="5"/><text x="551" y="788.5">3</text></g>

<!-- ================= ARROWS ================= -->
<polygon class="ar" points="628,268.5 635,264 635,267 645,267 645,264 652,268.5 645,273 645,270 635,270 635,273"/>
<polygon class="ar" points="628,389 635,384.5 635,387.5 645,387.5 645,384.5 652,389 645,393.5 645,390.5 635,390.5 635,393.5"/>
<polygon class="ar" points="628,594 635,589.5 635,592.5 645,592.5 645,589.5 652,594 645,598.5 645,595.5 635,595.5 635,598.5"/>
<polygon class="ar" points="628,714 635,709.5 635,712.5 645,712.5 645,709.5 652,714 645,718.5 645,715.5 635,715.5 635,718.5"/>
<polygon class="ar" points="330,821 337,816.5 337,819.5 349,819.5 349,816.5 356,821 349,825.5 349,822.5 337,822.5 337,825.5"/>
<polygon class="ar" points="254,478 258.5,485 255.5,485 255.5,495 258.5,495 254,502 249.5,495 252.5,495 252.5,485 249.5,485"/>
<polygon class="ar" points="402,478 406.5,485 403.5,485 403.5,495 406.5,495 402,502 397.5,495 400.5,495 400.5,485 397.5,485"/>
<polygon class="ar" points="713,326 717.5,333 714.5,333 714.5,344 717.5,344 713,351 708.5,344 711.5,344 711.5,333 708.5,333"/>
<polygon class="ar" points="752,326 756.5,333 753.5,333 753.5,344 756.5,344 752,351 747.5,344 750.5,344 750.5,333 747.5,333"/>
<text x="343" y="847" class="ff" font-size="10" fill="#333" text-anchor="middle">人流方向</text>
</svg>
</body></html>
